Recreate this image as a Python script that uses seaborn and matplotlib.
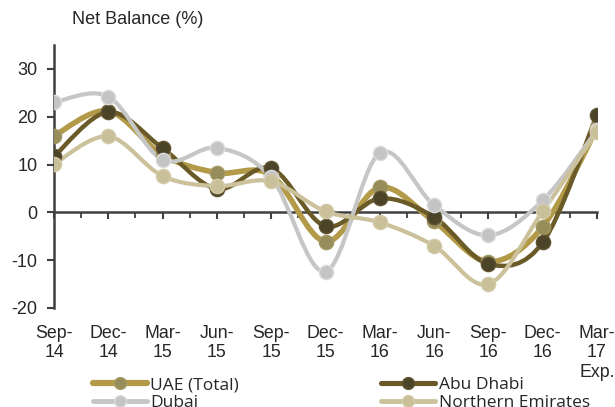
import numpy as np
import matplotlib
matplotlib.use("Agg")
import matplotlib.pyplot as plt
import seaborn as sns
from matplotlib.path import Path
from matplotlib.patches import PathPatch
from matplotlib.lines import Line2D

quarters = ["Sep-\n14", "Dec-\n14", "Mar-\n15", "Jun-\n15", "Sep-\n15", "Dec-\n15",
            "Mar-\n16", "Jun-\n16", "Sep-\n16", "Dec-\n16", "Mar-\n17\nExp."]

uae_total = [16.0, 21.2, 12.0, 8.3, 7.8, -6.1, 5.2, -1.9, -10.3, -3.0, 17.6]
abu_dhabi = [11.7, 21.0, 13.4, 4.9, 9.2, -2.9, 2.9, -1.0, -10.8, -6.3, 20.4]
dubai = [23.0, 24.2, 11.0, 13.5, 7.3, -12.4, 12.4, 1.5, -4.8, 2.5, 17.2]
northern = [10.1, 15.9, 7.6, 5.5, 6.5, 0.2, -2.1, -7.0, -15.0, 0.2, 16.9]

series = [
    ("UAE (Total)", uae_total, "#B39A48", "#978D5B", "#A39862", 4.0),
    ("Abu Dhabi", abu_dhabi, "#6A5A27", "#4B4429", "#5E5230", 3.2),
    ("Dubai", dubai, "#C6C6C6", "#C4C4C4", "#DCDCDC", 3.0),
    ("Northern Emirates", northern, "#CBC29C", "#C9C09A", "#D3CBA8", 3.0),
]


def smooth_path(xs, ys):
    # Excel style smoothed line: cubic bezier with catmull-rom control points
    pts = np.column_stack([xs, ys]).astype(float)
    n = len(pts)
    verts = [pts[0]]
    codes = [Path.MOVETO]
    for i in range(n - 1):
        p0 = pts[max(i - 1, 0)]
        p1 = pts[i]
        p2 = pts[i + 1]
        p3 = pts[min(i + 2, n - 1)]
        c1 = p1 + (p2 - p0) / 6.0
        c2 = p2 - (p3 - p1) / 6.0
        verts += [c1, c2, p2]
        codes += [Path.CURVE4] * 3
    return Path(verts, codes)


sns.set_style("white")
plt.rcParams["font.family"] = ["Liberation Sans", "DejaVu Sans"]
plt.rcParams["axes.unicode_minus"] = False

fig = plt.figure(figsize=(6.15, 4.07), dpi=100)
ax = fig.add_axes([54 / 615, 1 - 308 / 407, 543 / 615, 263 / 407])

x = np.arange(len(quarters))
handles = []
for name, vals, lc, mc, ec, lw in series:
    patch = PathPatch(smooth_path(x, vals), facecolor="none", edgecolor=lc,
                      lw=lw, capstyle="round", joinstyle="round", zorder=3)
    ax.add_patch(patch)
    sns.scatterplot(x=x, y=vals, ax=ax, s=105, color=mc, edgecolor=ec,
                    linewidth=1.0, zorder=4, legend=False)
    handles.append(Line2D([0], [0], color=lc, lw=lw + 0.5, marker="o",
                          markersize=8.5, markerfacecolor=mc,
                          markeredgecolor=ec, label=name))

ax.set_xlim(0, 10)
ax.set_ylim(-20, 35)
ax.set_yticks([-20, -10, 0, 10, 20, 30])
ax.tick_params(axis="y", labelsize=13, length=5, width=1.5, color="#404040",
               direction="out", left=True, pad=7)

for s in ["top", "right"]:
    ax.spines[s].set_visible(False)
ax.spines["left"].set_color("#404040")
ax.spines["left"].set_linewidth(1.8)
ax.spines["bottom"].set_position(("data", 0))
ax.spines["bottom"].set_color("#404040")
ax.spines["bottom"].set_linewidth(1.8)
ax.spines["left"].set_zorder(2)
ax.spines["bottom"].set_zorder(2)

ax.set_xticks(x)
ax.set_xticks(x[:-1] + 0.5, minor=True)
ax.set_xticklabels([])
ax.tick_params(axis="x", which="major", length=5, width=1.5, color="#404040",
               direction="out", bottom=True)
ax.tick_params(axis="x", which="minor", length=4, width=1.3, color="#404040",
               direction="out", bottom=True)

sec = ax.secondary_xaxis(0)
sec.set_xticks(x)
sec.set_xticklabels(quarters, fontsize=12.8, linespacing=1.2, va="top")
sec.tick_params(length=0, pad=12)
sec.spines["bottom"].set_visible(False)

fig.text(72 / 615, 1 - 20 / 407, "Net Balance (%)", fontsize=13,
         ha="left", va="center")

leg_order = [handles[0], handles[2], handles[1], handles[3]]
leg = fig.legend(handles=leg_order, ncol=2, loc="upper left",
                 bbox_to_anchor=(86 / 615, 1 - 370 / 407), frameon=False,
                 handlelength=3.1, handletextpad=0.2, columnspacing=8.2,
                 labelspacing=0.1, borderaxespad=0,
                 prop={"family": "Open Sans", "size": 12.5})

fig.savefig("out.png", dpi=100)
